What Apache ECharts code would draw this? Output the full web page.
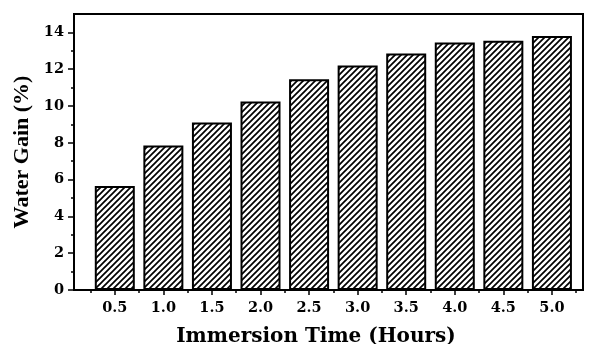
<!DOCTYPE html>
<html>
<head>
<meta charset="utf-8">
<script src="https://cdn.jsdelivr.net/npm/echarts@6/dist/echarts.min.js"></script>
<style>
html,body{margin:0;padding:0;background:#fff;}
#chart{width:590px;height:344px;}
</style>
</head>
<body>
<div id="chart"></div>
<script>
// ---- data ----
const immersionHours = [0.5, 1.0, 1.5, 2.0, 2.5, 3.0, 3.5, 4.0, 4.5, 5.0];
const waterGain = [5.65, 7.85, 9.1, 10.25, 11.45, 12.2, 12.85, 13.45, 13.55, 13.8];
const xMajorTicks = [0.5, 1.0, 1.5, 2.0, 2.5, 3.0, 3.5, 4.0, 4.5, 5.0];
const xMinorTicks = [0.25, 0.75, 1.25, 1.75, 2.25, 2.75, 3.25, 3.75, 4.25, 4.75, 5.25];
const yMajorTicks = [0, 2, 4, 6, 8, 10, 12, 14];
const yMinorTicks = [1, 3, 5, 7, 9, 11, 13];
const xTitle = 'Immersion Time (Hours)';
const yTitle = 'Water Gain (%)';

// hatch pattern
function makeHatch() {
  const s = 6;
  const c = document.createElement('canvas');
  c.width = s; c.height = s;
  const g = c.getContext('2d');
  g.fillStyle = '#fff';
  g.fillRect(0, 0, s, s);
  g.strokeStyle = '#000';
  g.lineWidth = 1.7;
  g.beginPath();
  g.moveTo(-s, s); g.lineTo(s, -s);
  g.moveTo(0, s); g.lineTo(s, 0);
  g.moveTo(0, 2 * s); g.lineTo(2 * s, 0);
  g.stroke();
  return c;
}

const chart = echarts.init(document.getElementById('chart'), null, {renderer: 'canvas'});
const labelFont = {fontFamily: 'DejaVu Serif', fontWeight: 'bold', fontSize: 14.5, color: '#000'};
const X_MIN = 0.08, X_MAX = 5.32;
const Y_MIN = 0, Y_MAX = 15;

chart.setOption({
  animation: false,
  backgroundColor: '#fff',
  grid: {left: 74, right: 7, top: 14, bottom: 54, outerBoundsMode: 'none', containLabel: false,
         show: true, borderColor: '#000', borderWidth: 2, backgroundColor: 'transparent'},
  xAxis: [{
    type: 'value', min: X_MIN, max: X_MAX, position: 'bottom',
    name: xTitle, nameLocation: 'middle', nameGap: 37,
    nameTextStyle: {fontFamily: 'DejaVu Serif', fontWeight: 'bold', fontSize: 20, color: '#000', padding: [0, 25, 0, 0]},
    axisLine: {show: true, lineStyle: {color: '#000', width: 2}},
    axisTick: {show: true, length: 5, lineStyle: {color: '#000', width: 1.5}, customValues: xMajorTicks},
    axisLabel: Object.assign({margin: 11, customValues: xMajorTicks, formatter: v => v.toFixed(1)}, labelFont),
    splitLine: {show: false}
  }, {
    type: 'value', min: X_MIN, max: X_MAX, position: 'top', offset: -276,
    axisLine: {show: false},
    axisTick: {show: true, inside: true, length: 3, lineStyle: {color: '#000', width: 1.5}, customValues: xMinorTicks},
    axisLabel: {show: false},
    splitLine: {show: false}
  }],
  yAxis: [{
    type: 'value', min: Y_MIN, max: Y_MAX, position: 'left',
    name: yTitle, nameLocation: 'middle', nameGap: 34,
    nameTextStyle: {fontFamily: 'Liberation Serif', fontWeight: 'bold', fontSize: 22, color: '#000'},
    axisLine: {show: true, lineStyle: {color: '#000', width: 2}},
    axisTick: {show: true, length: 6, lineStyle: {color: '#000', width: 1.5}, customValues: yMajorTicks},
    axisLabel: Object.assign({margin: 10, customValues: yMajorTicks}, labelFont),
    splitLine: {show: false}
  }, {
    type: 'value', min: Y_MIN, max: Y_MAX, position: 'right', offset: -509,
    axisLine: {show: false},
    axisTick: {show: true, inside: true, length: 3, lineStyle: {color: '#000', width: 1.5}, customValues: yMinorTicks},
    axisLabel: {show: false},
    splitLine: {show: false}
  }],
  series: [{
    type: 'bar',
    xAxisIndex: 0, yAxisIndex: 0,
    barWidth: 40,
    data: immersionHours.map((h, i) => [h, waterGain[i]]),
    itemStyle: {color: {image: makeHatch(), repeat: 'repeat'}, borderColor: '#000', borderWidth: 2},
    emphasis: {disabled: true}
  }]
});
</script>
</body>
</html>
